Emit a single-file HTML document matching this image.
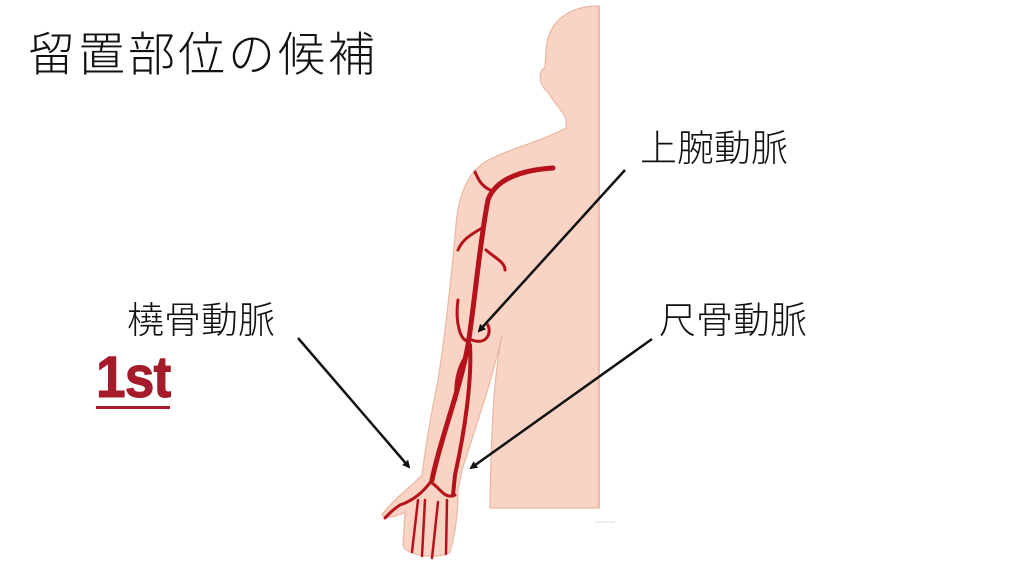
<!DOCTYPE html>
<html><head><meta charset="utf-8"><style>
body{margin:0;background:#fff;}
.t{position:absolute;font-family:"Liberation Sans","Noto Sans CJK JP",sans-serif;color:#111;white-space:nowrap;font-weight:300;}
</style></head><body>
<div style="position:relative;width:1024px;height:576px;overflow:hidden;">
<div class="t" style="left:28px;top:16px;font-size:47px;letter-spacing:3px;">留置部位の候補</div>
<div class="t" style="left:640px;top:118px;font-size:37px;">上腕動脈</div>
<div class="t" style="left:127px;top:290px;font-size:37px;">橈骨動脈</div>
<div class="t" style="left:659px;top:290px;font-size:37px;">尺骨動脈</div>
<svg width="1024" height="576" style="position:absolute;left:0;top:0">
<defs><marker id="a" markerWidth="8" markerHeight="8" refX="6" refY="4" orient="auto" markerUnits="userSpaceOnUse"><path d="M0,0 L8,4 L0,8 z" fill="#111"/></marker></defs>
<path d="M599,6 C570,6 548,20 546,50 L545,68 C538,70 538,85 548,92 C552,100 560,108 566,118 L566,128 C540,142 505,150 485,162 C465,175 458,200 456,225 C452,270 446,330 438,380 C430,420 425,450 422,475 C410,488 392,500 382,515 C388,520 400,515 405,512 L403,545 C404,556 440,560 450,552 C455,535 458,515 458,490 L462,470 C478,420 492,380 502,335 C493,380 491,440 490,508 L599,508 Z" fill="#f9d4c4" stroke="#e9b7a2" stroke-width="1.2"/>
<line x1="599" y1="6" x2="599" y2="508" stroke="#e6b09a" stroke-width="1.5"/>
<line x1="595" y1="522" x2="615" y2="522" stroke="#ddd" stroke-width="1"/>
<g fill="none" stroke="#b5121b" stroke-linecap="round">
<path d="M553,168 C520,170 495,180 488,200 C480,240 475,300 468,345 C460,390 440,440 432,480" stroke-width="5"/>
<path d="M470,345 C472,380 465,430 455,475 L453,495" stroke-width="4"/>
<path d="M490,190 C480,185 478,178 475,172" stroke-width="3"/>
<path d="M482,228 C470,235 462,240 458,250" stroke-width="3"/>
<path d="M486,250 C495,258 505,262 505,270" stroke-width="3"/>
<path d="M470,340 C460,345 455,320 458,300" stroke-width="3"/>
<path d="M472,340 C485,345 492,335 488,325" stroke-width="3"/>
<path d="M463,360 C455,375 455,390 456,400" stroke-width="2.5"/>
<path d="M432,480 C425,490 415,500 400,505 C392,510 388,515 385,518" stroke-width="3"/>
<path d="M432,483 C440,488 445,500 455,495" stroke-width="3"/>
<path d="M418,500 L412,552 M425,500 L422,556 M438,502 L432,558 M447,500 L446,554" stroke-width="2.5"/>
</g>
<g stroke="#111" stroke-width="2.5" marker-end="url(#a)">
<line x1="625" y1="170" x2="479" y2="331"/>
<line x1="652" y1="339" x2="471" y2="468"/>
<line x1="298" y1="338" x2="409" y2="467"/>
</g>
</svg>
<div style="position:absolute;left:96px;top:344px;font-family:'Liberation Sans',sans-serif;font-weight:bold;font-size:58px;color:#a51b2a;letter-spacing:-1px;transform:scaleX(0.92);transform-origin:left;-webkit-text-stroke:1px #a51b2a;">1st</div>
<div style="position:absolute;left:96px;top:406px;width:74px;height:3px;background:#a51b2a;"></div>
</div>
</body></html>
